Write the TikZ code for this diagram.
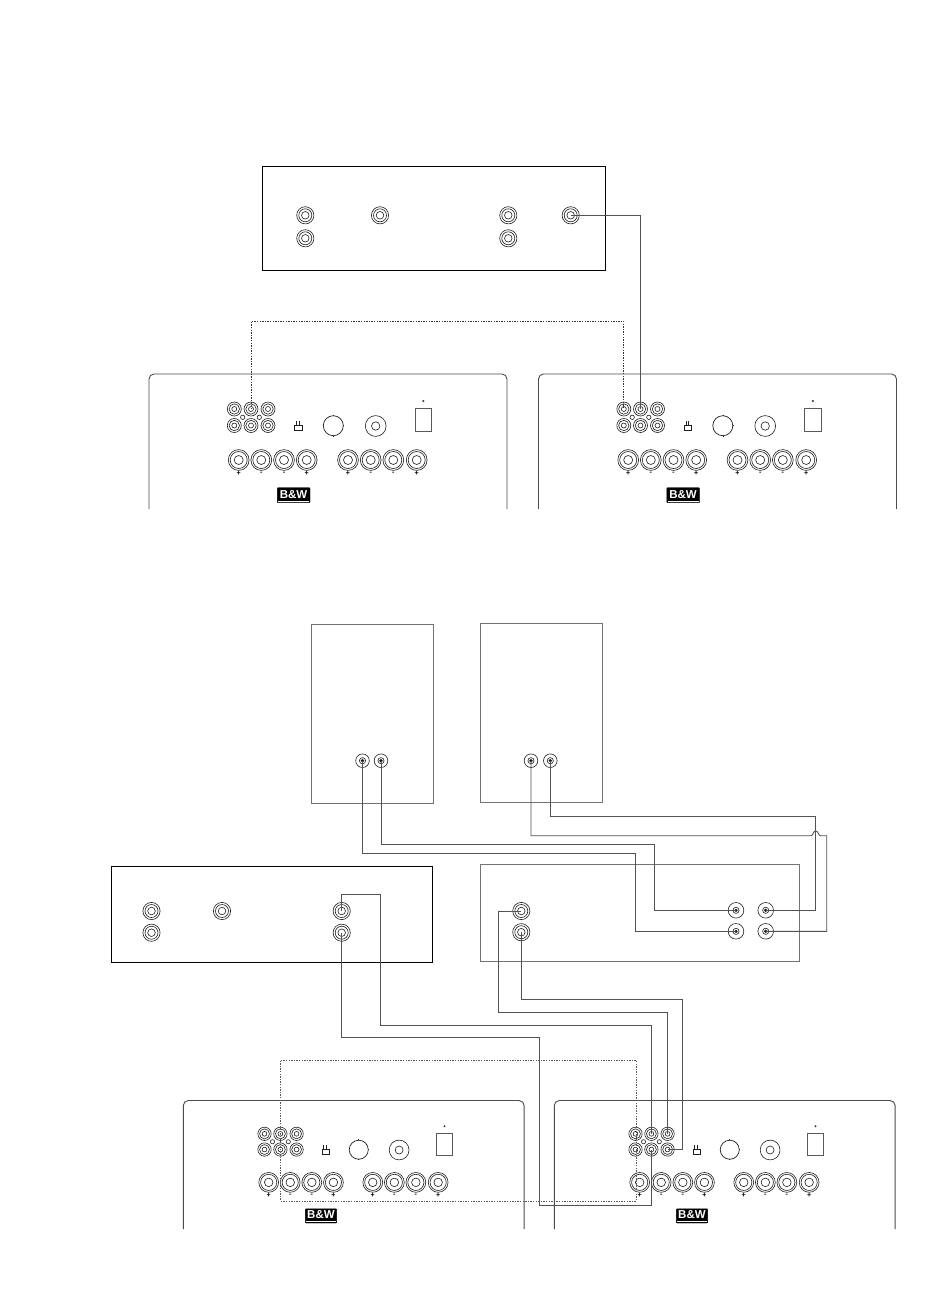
\documentclass[tikz,border=0pt]{standalone}
\usepackage{fontspec}
\setmainfont{Liberation Sans}
\tikzset{
  jackpt/.style={circle,inner sep=0pt,minimum size=0pt,outer sep=0pt},
  ringline/.style={draw=black!88,line width=.6pt},
  unitbold/.style={draw=black,line width=.95pt},
  unitgray/.style={draw=black!55,line width=.9pt},
  panel/.style={draw=black!70,line width=.9pt,rounded corners=5pt},
  wire/.style={draw=black!68,line width=.9pt},
  dotwire/.style={draw=black!80,line width=.8pt,dash pattern=on 1.4pt off 1.2pt},
  polmark/.style={font=\bfseries\fontsize{7}{7}\selectfont,inner sep=0pt},
  logo/.style={fill=black,draw=black,rounded corners=.6pt}
}
\newcommand{\ringjack}[3]{%
  \node[jackpt] (#1) at (#2,#3) {};
  \foreach \rr in {8.6,6.5,3.8} \draw[ringline] (#2,#3) circle[radius=\rr];}
% name, x, y, outer radius
\newcommand{\bindjack}[4]{%
  \node[jackpt] (#1) at (#2,#3) {};
  \draw[ringline] (#2,#3) circle[radius=#4];
  \draw[ringline] (#2,#3) circle[radius=3.1];
  \fill[black!90] (#2,#3) circle[radius=1.8];}
\newcommand{\rcajack}[3]{%
  \node[jackpt] (#1) at (#2,#3) {};
  \foreach \rr in {7,5.2,2.5} \draw[ringline] (#2,#3) circle[radius=\rr];}
\newcommand{\termjack}[3]{%
  \node[jackpt] (#1) at (#2,#3) {};
  \foreach \rr in {10.4,8.5,4.5} \draw[ringline] (#2,#3) circle[radius=\rr];}
% prefix, left, top, scale
\newcommand{\ampunit}[4]{%
\begin{scope}[shift={(#2,#3)},scale=#4]
  \draw[panel] (0,135) -- (0,0) -- (358,0) -- (358,135);
  \rcajack{#1a}{85.3}{35}\rcajack{#1b}{102}{35}\rcajack{#1c}{119}{35}
  \rcajack{#1d}{85.3}{51.5}\rcajack{#1e}{102}{51.5}\rcajack{#1f}{119}{51.5}
  \draw[ringline] (93.7,43.3) circle[radius=2.2] (110.3,43.3) circle[radius=2.2];
  % switch
  \draw[ringline] (145.5,51.5) rectangle (153,56.5) (147.5,51.5) -- (147.5,47) (150,51.5) -- (150,47);
  % knob
  \draw[ringline,line width=.7pt] (184.3,51.7) circle[radius=10];
  \draw[ringline] (184.3,41.7) -- (184.3,40.7) (194.3,51.7) -- (195.3,51.7) (184.3,61.7) -- (184.3,62.7);
  % socket
  \draw[ringline] (226.7,52) circle[radius=10.4] (226.7,52) circle[radius=4.2];
  % power switch
  \draw[draw=black!65,line width=.8pt] (266.3,34.5) rectangle (282.7,57.7);
  \fill[black!75] (274.3,27) circle[radius=1.2];
  % speaker terminals
  \termjack{#1t1}{89.7}{86}\termjack{#1t2}{112.3}{86}\termjack{#1t3}{135}{86}\termjack{#1t4}{157.7}{86}
  \termjack{#1t5}{199}{86}\termjack{#1t6}{221.7}{86}\termjack{#1t7}{244.3}{86}\termjack{#1t8}{267.7}{86}
  \node[polmark] (#1m1) at (89.7,99.7) {+};
  \node[polmark] (#1m2) at (112.3,99.7) {-};
  \node[polmark] (#1m3) at (135,99.7) {-};
  \node[polmark] (#1m4) at (157.7,99.7) {+};
  \node[polmark] (#1m5) at (199,99.7) {+};
  \node[polmark] (#1m6) at (221.7,99.7) {-};
  \node[polmark] (#1m7) at (244.3,99.7) {-};
  \node[polmark] (#1m8) at (267.7,99.7) {+};
  % logo
  \draw[logo] (128.3,113.7) rectangle (161,128.7);
  \node[inner sep=0pt,text=white,font=\bfseries\fontsize{11.5}{11.5}\selectfont] (#1logo) at (144.6,120.2) {B\&W};
  \draw[white,line width=.35pt] (129,127.2) -- (160.3,127.2);
\end{scope}}
\begin{document}
\begin{tikzpicture}[x=1pt,y=-1pt]
\useasboundingbox (0,0) rectangle (950,1315);
\fill[white] (0,0) rectangle (950,1315);

% top unit
\draw[unitbold] (262.3,166.5) rectangle (605.7,270.3);
\ringjack{ta}{305.3}{215.3}\ringjack{tb}{305.3}{238.3}\ringjack{tc}{380}{215.3}
\ringjack{td}{508.3}{215.3}\ringjack{te}{508.3}{238.3}\ringjack{tf}{570.7}{215.3}

\ampunit{P}{149}{374}{1}
\ampunit{Q}{538.5}{374}{1}

\draw[wire] (tf) -| (Qb);
\draw[dotwire] (Pb) |- (437,321.3) -| (Qa);

% speakers
\draw[unitgray] (311,624) rectangle (433,803);
\draw[unitgray] (480.5,623.5) rectangle (602.3,802.3);
\bindjack{sa}{362.5}{760.7}{6.8}\bindjack{sb}{381}{760.7}{6.8}
\bindjack{sc}{531}{760.7}{6.8}\bindjack{sd}{550.3}{760.7}{6.8}

% left processor
\draw[unitbold] (111,866) rectangle (432.7,962.3);
\ringjack{la}{151.5}{911}\ringjack{lb}{151.5}{932.7}\ringjack{lc}{222}{911}
\ringjack{ld}{341.7}{911}\ringjack{le}{341.7}{932.7}

% power amp
\draw[unitgray] (480,864.7) rectangle (799.3,961);
\ringjack{ra}{521.3}{911}\ringjack{rb}{521.3}{932.2}
\bindjack{rc}{736}{910.3}{7.8}\bindjack{rd}{736}{931.3}{7.8}
\bindjack{re}{765.7}{910.3}{7.8}\bindjack{rf}{765.7}{931.3}{7.8}

\ampunit{U}{183.3}{1100.5}{.952}
\ampunit{V}{554.3}{1100.5}{.952}

% speaker wires
\draw[wire] (sa) |- (500,853.3) -| (635.7,931.3) -- (rd);
\draw[wire] (sb) |- (500,844.7) -| (654.3,910.3) -- (rc);
\draw[wire] (sd) |- (815.7,816.3) |- (re);
\draw[wire] (sc) |- (811,835.7) .. controls (813.2,835.7) and (812.8,831) .. (815.7,831)
   .. controls (818.6,831) and (818.2,835.7) .. (820.4,835.7) -- (826.7,835.7) |- (rf);

% signal wires
\draw[wire] (ld) |- (380.7,894.7) |- (500,1025.3) -| (Vb);
\draw[wire] (le) |- (539.3,1037.3) |- (600,1205.7) -| (Ve);
\draw[wire] (ra) -| (498.7,1012.7) -| (Vc);
\draw[wire] (rb) |- (682.3,999.3) |- (Vf);

% dotted loop
\coordinate (dl) at (280.7,1060);
\coordinate (dr) at (636,1201);
\draw[dotwire,draw=black!65] (dl) -| (dr) -| cycle;
\end{tikzpicture}
\end{document}
